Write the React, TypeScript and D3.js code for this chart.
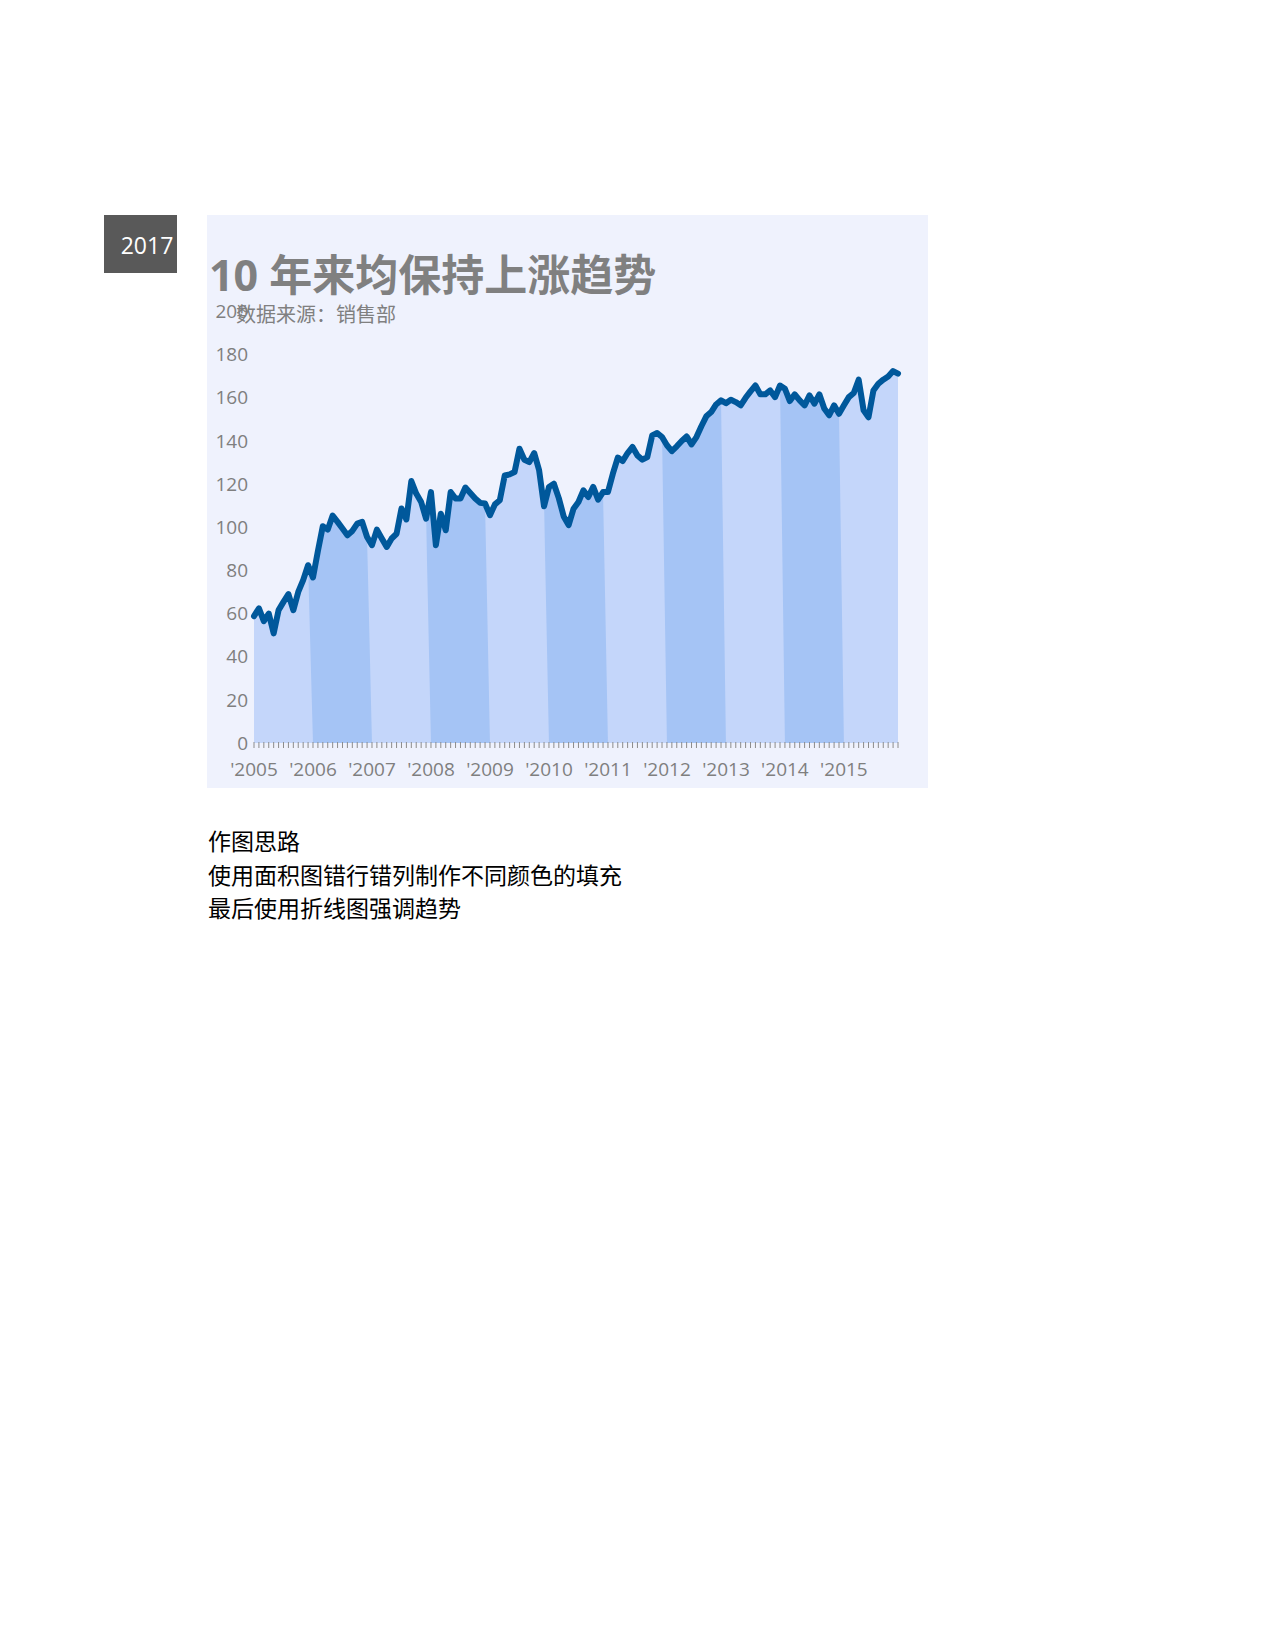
import React, { useEffect, useRef } from "react";
import * as d3 from "d3";

// monthly values, one array per year (each year drawn as its own area band)
const years = ["2005", "2006", "2007", "2008", "2009", "2010", "2011", "2012", "2013", "2014", "2015"];

const v2005 = [58.8, 62.4, 56.5, 60, 50.8, 61.6, 65.4, 69, 61.6, 70, 75.5, 82.4];
const v2006 = [76.7, 89, 100.5, 98.9, 105.4, 102.5, 99.4, 96.3, 98.3, 101.7, 102.5, 95.5];
const v2007 = [91.7, 98.9, 94.8, 90.9, 94.8, 97, 108.7, 103.6, 121.4, 115.6, 111.7, 104];
const v2008 = [116.3, 91.7, 106.3, 98.6, 116.3, 113.3, 113.3, 118.4, 115.9, 113.3, 111.3, 111];
const v2009 = [105.6, 110.6, 112.5, 124, 124.5, 125.6, 136.4, 131.3, 130.2, 134.4, 126.4, 109.7];
const v2010 = [118.7, 120.2, 113.5, 105, 101, 108.6, 111.7, 117.1, 114, 118.7, 112.8, 116.3];
const v2011 = [116.3, 124.8, 132.3, 130.7, 134.4, 137.2, 133.3, 131.3, 132.5, 142.6, 143.7, 141.8];
const v2012 = [138, 135.3, 137.5, 140, 142.1, 138.4, 141.8, 146.8, 151.4, 153.4, 156.9, 158.8];
const v2013 = [157.5, 159.1, 158, 156.5, 160, 163, 165.7, 161.6, 161.6, 163.4, 160.3, 165.7];
const v2014 = [164.2, 158.5, 161.6, 158.8, 156.5, 161.1, 157.3, 161.6, 155, 151.9, 156.5, 152.6];
const v2015 = [156.5, 160.3, 162.2, 168.4, 154.2, 151, 163.4, 166.5, 168.4, 169.9, 172.4, 171.2];

const yearValues = [v2005, v2006, v2007, v2008, v2009, v2010, v2011, v2012, v2013, v2014, v2015];

const yTicks = [0, 20, 40, 60, 80, 100, 120, 140, 160, 180, 200];

const title = "10 年来均保持上涨趋势";
const subtitle = "数据来源：销售部";
const badge = "2017";
const notes = ["作图思路", "使用面积图错行错列制作不同颜色的填充", "最后使用折线图强调趋势"];

// Open Sans for latin/digits, CJK falls through to Noto Sans CJK
const FONT = "'Open Sans', 'Noto Sans CJK SC', sans-serif";

const App: React.FC = () => {
  const svgRef = useRef<SVGSVGElement>(null);

  useEffect(() => {
    if (!svgRef.current) return;
    const svg = d3.select(svgRef.current);
    svg.selectAll("*").remove();

    const all = yearValues.flat();
    const idx = all.map((_, i) => i);

    const x = d3.scalePoint<number>().domain(idx).range([254, 898]);
    const y = d3.scaleLinear().domain([0, 200]).range([743, 311.5]);

    // badge
    svg.append("rect").attr("x", 104).attr("y", 215).attr("width", 73).attr("height", 58).attr("fill", "#595959");
    svg
      .append("text")
      .attr("x", 147)
      .attr("y", 254)
      .attr("text-anchor", "middle")
      .style("font-family", FONT)
      .style("font-size", "23px")
      .style("fill", "#ffffff")
      .text(badge);

    // chart background
    svg.append("rect").attr("x", 207).attr("y", 215).attr("width", 721).attr("height", 573).attr("fill", "#eff2fd");

    // year bands: each band covers its months, then drops to 0 at the next month;
    // earlier years sit on top so the slanted edge shows
    const area = d3
      .area<[number, number]>()
      .x((d) => x(d[0])!)
      .y0(y(0))
      .y1((d) => y(d[1]));

    const bands = yearValues.map((vals, k) => {
      const start = k * 12;
      const pts: [number, number][] = [];
      if (k > 0) pts.push([start - 1, all[start - 1]]);
      vals.forEach((v, j) => pts.push([start + j, v]));
      if (k < yearValues.length - 1) pts.push([start + 12, 0]);
      return { k, pts };
    });

    svg
      .append("g")
      .selectAll("path")
      .data(bands.slice().reverse())
      .enter()
      .append("path")
      .attr("d", (d) => area(d.pts))
      .attr("fill", (d) => (d.k % 2 === 0 ? "#c4d6fa" : "#a5c4f5"));

    // month ticks
    svg
      .append("g")
      .selectAll("line")
      .data(idx)
      .enter()
      .append("line")
      .attr("x1", (d) => x(d)!)
      .attr("x2", (d) => x(d)!)
      .attr("y1", 742)
      .attr("y2", 748)
      .attr("stroke", "#8c8c8c")
      .attr("stroke-width", 1);

    // year labels
    svg
      .append("g")
      .selectAll("text")
      .data(years)
      .enter()
      .append("text")
      .attr("x", (_, i) => x(i * 12)!)
      .attr("y", 776)
      .attr("text-anchor", "middle")
      .style("font-family", FONT)
      .style("font-size", "19px")
      .style("fill", "#7f7f7f")
      .text((d) => "'" + d);

    // y labels
    svg
      .append("g")
      .selectAll("text")
      .data(yTicks)
      .enter()
      .append("text")
      .attr("x", 248)
      .attr("y", (d) => y(d))
      .attr("dy", "0.35em")
      .attr("text-anchor", "end")
      .style("font-family", FONT)
      .style("font-size", "19px")
      .style("fill", "#7f7f7f")
      .text((d) => d);

    // trend line
    const line = d3
      .line<number>()
      .x((_, i) => x(i)!)
      .y((d) => y(d));

    svg
      .append("path")
      .attr("d", line(all))
      .attr("fill", "none")
      .attr("stroke", "#00589b")
      .attr("stroke-width", 6)
      .attr("stroke-linejoin", "round")
      .attr("stroke-linecap", "round");

    // title + subtitle
    svg
      .append("text")
      .attr("x", 209)
      .attr("y", 291)
      .style("font-family", FONT)
      .style("font-size", "43px")
      .style("font-weight", "700")
      .style("fill", "#808080")
      .text(title);

    svg
      .append("text")
      .attr("x", 236)
      .attr("y", 322)
      .style("font-family", FONT)
      .style("font-size", "20px")
      .style("fill", "#808080")
      .text(subtitle);

    // notes under the chart
    svg
      .append("g")
      .selectAll("text")
      .data(notes)
      .enter()
      .append("text")
      .attr("x", 208)
      .attr("y", (_, i) => 850 + i * 33.5)
      .style("font-family", FONT)
      .style("font-size", "23px")
      .style("fill", "#000000")
      .text((d) => d);
  }, []);

  return (
    <svg
      ref={svgRef}
      width={1275}
      height={1650}
      style={{ position: "absolute", left: 0, top: 0, background: "#ffffff" }}
    />
  );
};

export default App;
